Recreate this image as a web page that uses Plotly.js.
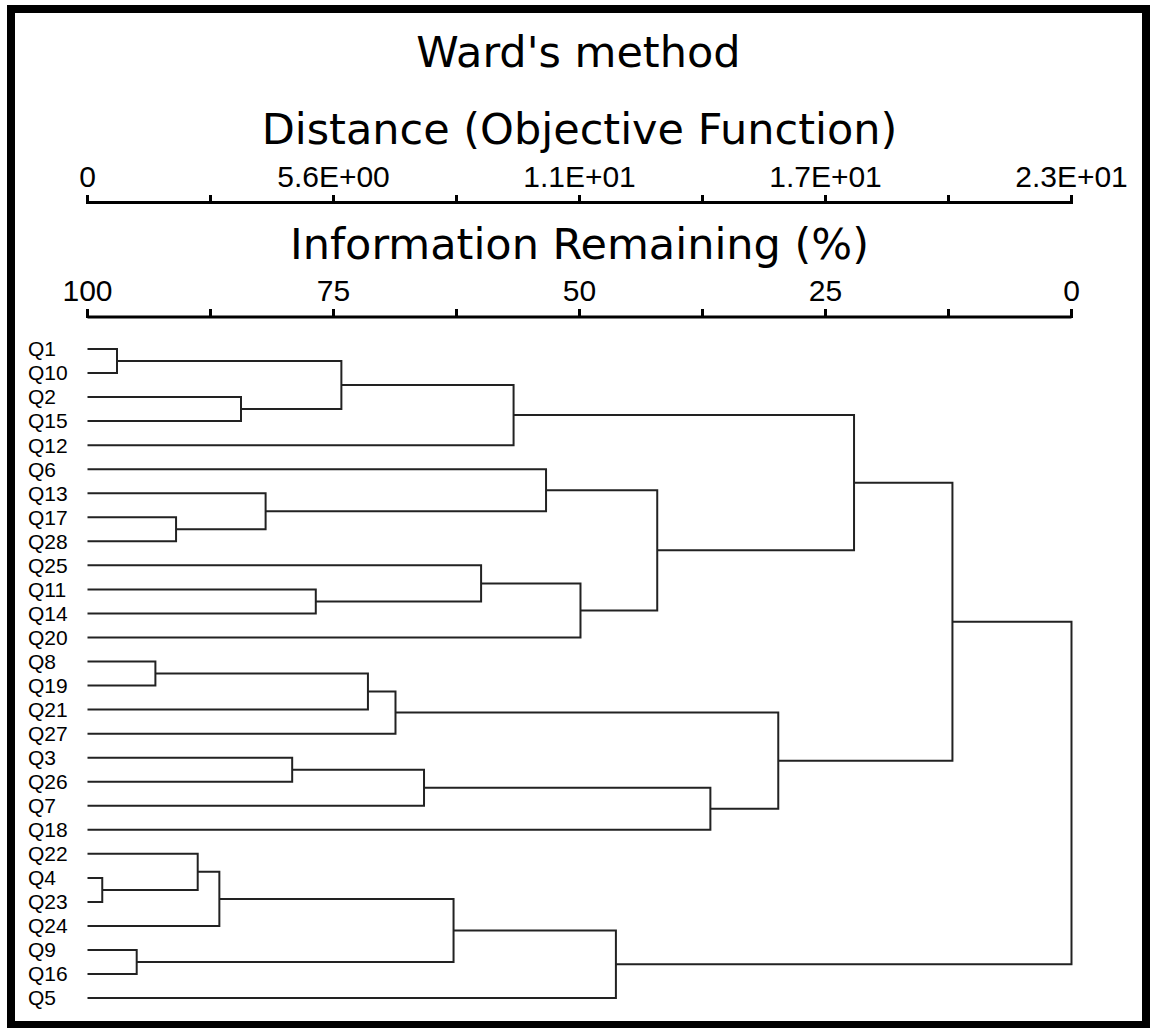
<!DOCTYPE html>
<html>
<head>
<meta charset="utf-8">
<script src="https://cdn.plot.ly/plotly-3.0.1.min.js"></script>
<style>html,body{margin:0;padding:0;background:#fff;}#chart{width:1150px;height:1028px;}</style>
</head>
<body>
<div id="chart"></div>
<script>
// Leaf order (top to bottom)
const leaves = ['Q1','Q10','Q2','Q15','Q12','Q6','Q13','Q17','Q28','Q25','Q11','Q14','Q20',
  'Q8','Q19','Q21','Q27','Q3','Q26','Q7','Q18','Q22','Q4','Q23','Q24','Q9','Q16','Q5'];

// Merge table: Mk = k-th merge (1-based); height = information remaining (%)
const mergeA = ['Q1','Q2','M1','M3','Q17','Q13','Q6','Q11','Q25','M9','M7','M4','Q8','M13',
  'M14','Q3','M16','M17','M15','M12','Q4','Q22','M22','Q9','M23','M25','M20'];
const mergeB = ['Q10','Q15','M2','Q12','Q28','M5','M6','Q14','M8','Q20','M10','M11','Q19','Q21',
  'Q27','Q26','Q7','Q18','M18','M19','Q23','M21','Q24','Q16','M24','Q5','M26'];
const mergeRemaining = [97.0, 84.4, 74.2, 56.7, 91.0, 81.9, 53.4, 76.8, 60.0, 49.9, 42.1, 22.1,
  93.1, 71.5, 68.7, 79.2, 65.8, 36.7, 29.8, 12.1, 98.5, 88.8, 86.6, 95.0, 62.8, 46.3, 0.0];

// Axis tick values / labels
const remainingTicks = [100, 87.5, 75, 62.5, 50, 37.5, 25, 12.5, 0];
const remainingLabels = ['100', '', '75', '', '50', '', '25', '', '0'];
const distanceMax = 22.6;
const distanceTicks = [0, 2.825, 5.65, 8.475, 11.3, 14.125, 16.95, 19.775, 22.6];
const distanceLabels = ['0', '', '5.6E+00', '', '1.1E+01', '', '1.7E+01', '', '2.3E+01'];

// Build node positions
const pos = {};
leaves.forEach((n, i) => { pos[n] = {x: 100, y: i}; });
const xs = [], ys = [];
mergeA.forEach((a, k) => {
  const b = mergeB[k];
  const h = mergeRemaining[k];
  const pa = pos[a], pb = pos[b];
  xs.push(pa.x, h, h, pb.x, null);
  ys.push(pa.y, pa.y, pb.y, pb.y, null);
  pos['M' + (k + 1)] = {x: h, y: (pa.y + pb.y) / 2};
});

const W = 1150, H = 1028;
const px = v => v / W, py = v => 1 - v / H;

// small padding so the root link at 0 % is not clipped
const pad = 0.6;                       // in % units
const pxPerPct = 984 / 100;
const xDomain = [px(87.5 - pad * pxPerPct), px(1071.5 + pad * pxPerPct)];
const distPad = distanceMax * pad / 100;

const data = [
  {type: 'scatter', mode: 'lines', x: xs, y: ys, xaxis: 'x', yaxis: 'y',
   line: {color: '#222', width: 2}, hoverinfo: 'skip', showlegend: false},
  {type: 'scatter', mode: 'none', x: [0, distanceMax], y: [0, 0], xaxis: 'x2', yaxis: 'y',
   hoverinfo: 'skip', showlegend: false}
];

const tickFont = {family: 'Liberation Sans, Arial, sans-serif', size: 30, color: '#000'};
const titleFont = {family: 'DejaVu Sans, sans-serif', size: 43, color: '#000'};

const layout = {
  width: W, height: H,
  margin: {l: 0, r: 0, t: 0, b: 0},
  paper_bgcolor: '#fff', plot_bgcolor: 'rgba(0,0,0,0)',
  showlegend: false,
  title: {text: "Ward's method", font: titleFont, x: 0.503, xanchor: 'center',
          xref: 'paper', y: py(37), yref: 'container', yanchor: 'top'},
  xaxis: {
    domain: xDomain, range: [100 + pad, -pad], side: 'top', anchor: 'y',
    showline: false,
    ticks: 'outside', ticklen: 9, tickwidth: 3, tickcolor: '#000',
    tickmode: 'array', tickvals: remainingTicks, ticktext: remainingLabels,
    ticklabelstandoff: -4,
    tickfont: tickFont, showgrid: false, zeroline: false,
    title: {text: 'Information Remaining (%)', font: titleFont, standoff: 0}
  },
  xaxis2: {
    range: [-distPad, distanceMax + distPad], side: 'top', overlaying: 'x',
    anchor: 'free', position: py(204),
    showline: false,
    ticks: 'outside', ticklen: 9, tickwidth: 3, tickcolor: '#000',
    tickmode: 'array', tickvals: distanceTicks, ticktext: distanceLabels,
    ticklabelstandoff: -4,
    tickfont: tickFont, showgrid: false, zeroline: false,
    title: {text: 'Distance (Objective Function)', font: titleFont, standoff: 0}
  },
  yaxis: {
    domain: [py(1020), py(318.5)],
    range: [(1020 - 349) / 24.04, -(349 - 318.5) / 24.04],
    side: 'right', anchor: 'free', position: px(27),
    showline: false, ticks: '', showgrid: false, zeroline: false,
    tickmode: 'array', tickvals: leaves.map((n, i) => i), ticktext: leaves,
    tickfont: {family: 'Liberation Sans, Arial, sans-serif', size: 21, color: '#000'}
  },
  shapes: [
    // axis lines, spanning 100 -> 0 % on each scale
    {type: 'line', xref: 'x', yref: 'paper', x0: 100, x1: 0, y0: py(317), y1: py(317),
     line: {color: '#000', width: 3}},
    {type: 'line', xref: 'x2', yref: 'paper', x0: 0, x1: distanceMax, y0: py(202.5), y1: py(202.5),
     line: {color: '#000', width: 3}},
    // outer frame
    {type: 'rect', xref: 'paper', yref: 'paper', x0: px(11), x1: px(1146), y0: py(1025), y1: py(9),
     line: {color: '#000', width: 8}, fillcolor: 'rgba(0,0,0,0)'}
  ]
};

Plotly.newPlot('chart', data, layout, {displayModeBar: false, staticPlot: true});
</script>
</body>
</html>
